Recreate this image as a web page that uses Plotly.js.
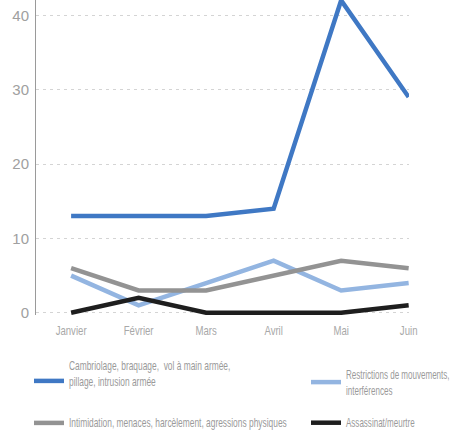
<!DOCTYPE html>
<html>
<head>
<meta charset="utf-8">
<script src="https://cdn.plot.ly/plotly-3.0.1.min.js"></script>
<style>html,body{margin:0;padding:0;background:#fff;}#chart{width:450px;height:430px;}</style>
</head>
<body>
<div id="chart"></div>
<script>
var months = ["Janvier", "Février", "Mars", "Avril", "Mai", "Juin"];
var seriesNames = [
  "Cambriolage, braquage,  vol à main armée,<br>pillage, intrusion armée",
  "Restrictions de mouvements,<br>interférences",
  "Intimidation, menaces, harcèlement, agressions physiques",
  "Assassinat/meurtre"
];
var cambriolage = [13, 13, 13, 14, 42, 29];
var restrictions = [5, 1, 4, 7, 3, 4];
var intimidation = [6, 3, 3, 5, 7, 6];
var assassinat = [0, 2, 0, 0, 0, 1];
var yTicks = [0, 10, 20, 30, 40];

function tr(y, name, color, legend, group) {
  return {
    x: months, y: y, name: name, type: "scatter", mode: "lines",
    line: {color: color, width: 4.5}, legend: legend, legendgroup: group,
    hoverinfo: "skip"
  };
}

var data = [
  tr(cambriolage, seriesNames[0], "#3f78c4", "legend", "a"),
  tr(restrictions, seriesNames[1], "#93b5e1", "legend2", "b"),
  tr(intimidation, seriesNames[2], "#939393", "legend", "c"),
  tr(assassinat, seriesNames[3], "#1e1e1e", "legend2", "d")
];

var legendFont = {family: "Liberation Sans, Arial, sans-serif", size: 12, color: "#9a9a9a"};

var layout = {
  width: 450, height: 430,
  margin: {l: 36, r: 41, t: 0, b: 115, autoexpand: false},
  paper_bgcolor: "#fff", plot_bgcolor: "#fff",
  showlegend: true,
  xaxis: {
    type: "category", range: [-0.52, 5.005], showgrid: false, zeroline: false,
    showline: false, ticks: "outside", ticklen: 5, tickcolor: "rgba(0,0,0,0)",
    tickfont: {family: "Liberation Sans, Arial, sans-serif", size: 12, color: "#a8a8a8"}
  },
  yaxis: {
    range: [-0.3, 42.05], tickmode: "array", tickvals: yTicks, showgrid: true,
    gridcolor: "#d4d4d4", griddash: "3px,4px", gridwidth: 1,
    zeroline: false, showline: true, linecolor: "#9a9a9a", linewidth: 1,
    ticks: "outside", ticklen: 3, tickcolor: "rgba(0,0,0,0)",
    tickfont: {family: "Liberation Sans, Arial, sans-serif", size: 15, color: "#a0a0a0"}
  },
  legend: {
    xref: "container", yref: "container", x: 29/450, y: 1 - 351/430,
    xanchor: "left", yanchor: "top", orientation: "v", valign: "bottom",
    font: legendFont, tracegroupgap: 23, bgcolor: "rgba(0,0,0,0)"
  },
  legend2: {
    xref: "container", yref: "container", x: 306/450, y: 1 - 360/430,
    xanchor: "left", yanchor: "top", orientation: "v", valign: "middle",
    font: legendFont, tracegroupgap: 14, bgcolor: "rgba(0,0,0,0)"
  }
};

function squeeze(el, s, anchor) {
  var cur = el.getAttribute("transform") || "";
  if (el.__sq && el.__sq === cur) return;
  var b = el.getBBox();
  var cx = anchor === "start" ? b.x : b.x + b.width / 2;
  var t = cur + " translate(" + cx + ",0) scale(" + s + ",1) translate(" + (-cx) + ",0)";
  el.setAttribute("transform", t);
  el.__sq = el.getAttribute("transform");
}

function legendId(el) {
  var p = el.parentNode;
  while (p && p.getAttribute) {
    var c = p.getAttribute("class") || "";
    var m = c.match(/(^|\s)(legend\d*)(\s|$)/);
    if (m) return m[2];
    p = p.parentNode;
  }
  return null;
}

function squeezeAll() {
  document.querySelectorAll("svg text").forEach(function (el) {
    var id = legendId(el);
    if (id) squeeze(el, id === "legend2" ? 0.67 : 0.7, "start");
  });
  document.querySelectorAll(".xtick text").forEach(function (el) { squeeze(el, 0.8, "middle"); });
  document.querySelectorAll("[clip-path]").forEach(function (el) {
    var cp = el.getAttribute("clip-path") || "";
    if (cp.indexOf("legend") >= 0) el.removeAttribute("clip-path");
  });
}

Plotly.newPlot("chart", data, layout, {displayModeBar: false, staticPlot: true}).then(function (gd) {
  squeezeAll();
  gd.on("plotly_afterplot", squeezeAll);
  setTimeout(squeezeAll, 50);
  setTimeout(squeezeAll, 300);
});
</script>
</body>
</html>
